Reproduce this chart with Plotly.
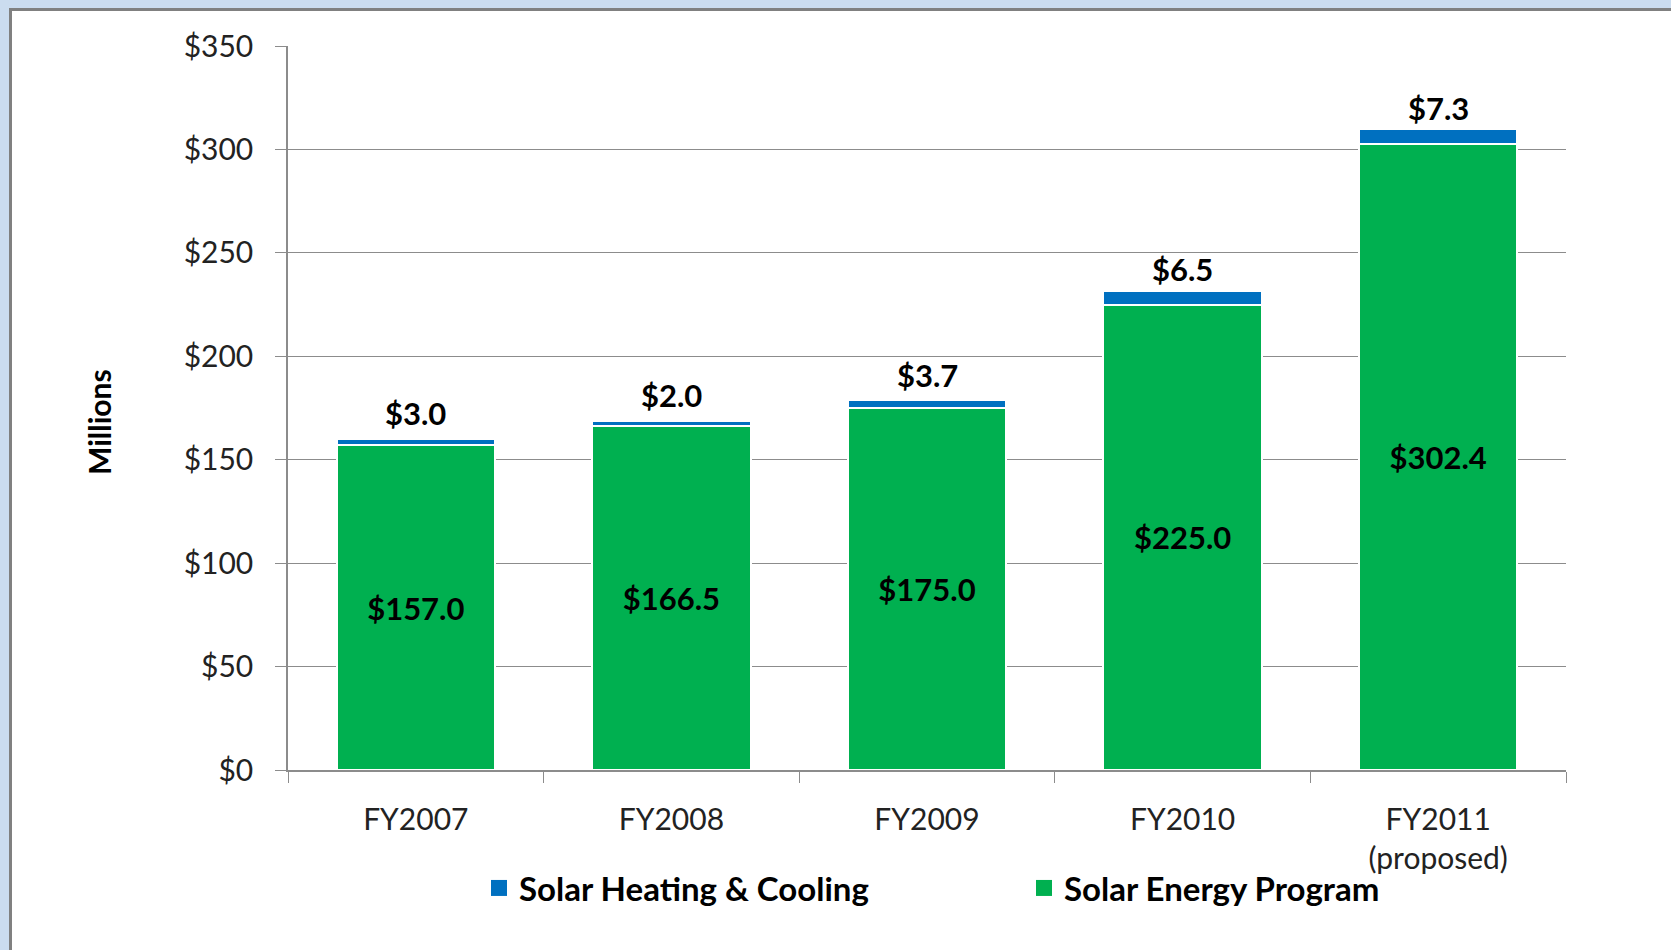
import plotly.graph_objects as go

categories = ["FY2007", "FY2008", "FY2009", "FY2010", "FY2011<br>(proposed)"]
solar_energy = [157.0, 166.5, 175.0, 225.0, 302.4]
solar_heating = [3.0, 2.0, 3.7, 6.5, 7.3]
label_y = [a + b / 2 for a, b in zip(solar_energy, solar_heating)]

FONT = "Lato"
GREEN = "#00B050"
BLUE = "#0070C0"

W, H = 1671, 950
ml, mr, mt, mb = 288, 105, 46, 180
pw = W - ml - mr
ph = H - mt - mb

def px_x(x):
    return (x - ml) / pw

def px_y(y):
    return (H - mb - y) / ph

fig = go.Figure()
fig.add_trace(go.Bar(
    x=categories, y=solar_energy, name="Solar Energy Program",
    marker=dict(color=GREEN, line=dict(color="white", width=2)),
    text=[f"${v:.1f}" for v in solar_energy], textposition="inside",
    insidetextanchor="middle",
    textfont=dict(family=FONT, size=31, color="black", weight="bold"),
    showlegend=False,
))
fig.add_trace(go.Bar(
    x=categories, y=solar_heating, name="Solar Heating & Cooling",
    marker=dict(color=BLUE, line=dict(color="white", width=2)),
    textposition="none", showlegend=False,
))
# legend entries
fig.add_trace(go.Scatter(
    x=[None], y=[None], mode="markers", name="Solar Heating & Cooling",
    marker=dict(symbol="square", size=18, color=BLUE),
))
fig.add_trace(go.Scatter(
    x=[None], y=[None], mode="markers", name="Solar Energy Program",
    marker=dict(symbol="square", size=18, color=GREEN),
))

annotations = [
    dict(x=c, y=t, text=f"<b>${v:.1f}</b>", showarrow=False,
         xref="x", yref="y", yanchor="bottom", yshift=8,
         font=dict(family=FONT, size=31, color="black"))
    for c, t, v in zip(categories, label_y, solar_heating)
]
annotations.append(dict(
    x=px_x(99), y=px_y(422), xref="paper", yref="paper",
    text="<b>Millions</b>", textangle=-90, showarrow=False,
    xanchor="center", yanchor="middle",
    font=dict(family=FONT, size=30, color="black"),
))

fig.update_layout(
    width=W, height=H,
    barmode="stack", bargap=0.38,
    margin=dict(l=ml, r=mr, t=mt, b=mb),
    paper_bgcolor="#cbdcef", plot_bgcolor="rgba(0,0,0,0)",
    font=dict(family=FONT, size=30, color="#222222"),
    showlegend=True,
    legend=dict(
        orientation="h", traceorder="normal",
        x=px_x(479), xanchor="left", y=px_y(888), yanchor="middle",
        font=dict(family=FONT, size=33, color="black", weight="bold"),
        entrywidth=500, entrywidthmode="pixels",
        bgcolor="rgba(0,0,0,0)", itemclick=False, itemdoubleclick=False,
    ),
    annotations=annotations,
    shapes=[dict(
        type="rect", xref="paper", yref="paper", layer="below",
        x0=px_x(10.5), x1=px_x(W + 20), y0=px_y(H + 20), y1=px_y(9.5),
        fillcolor="white", line=dict(color="#808080", width=3),
    )],
)
fig.update_xaxes(
    showline=True, linecolor="#8c8c8c", linewidth=1.5,
    ticks="outside", tickson="boundaries", ticklen=11, tickcolor="#8c8c8c",
    tickfont=dict(family=FONT, size=30, color="#222222"),
    ticklabelstandoff=22,
    showgrid=False, fixedrange=True,
)
fig.update_yaxes(
    range=[0, 350], dtick=50, tickprefix="$",
    showline=True, linecolor="#8c8c8c", linewidth=1.5,
    ticks="outside", ticklen=11, tickcolor="#8c8c8c",
    showgrid=True, gridcolor="#8c8c8c", gridwidth=1.2, zeroline=False,
    tickfont=dict(family=FONT, size=30, color="#222222"),
    ticklabelstandoff=16, fixedrange=True,
)

fig.write_html("out.html", config={"displayModeBar": False},
               post_script="document.body.style.margin='0';")
